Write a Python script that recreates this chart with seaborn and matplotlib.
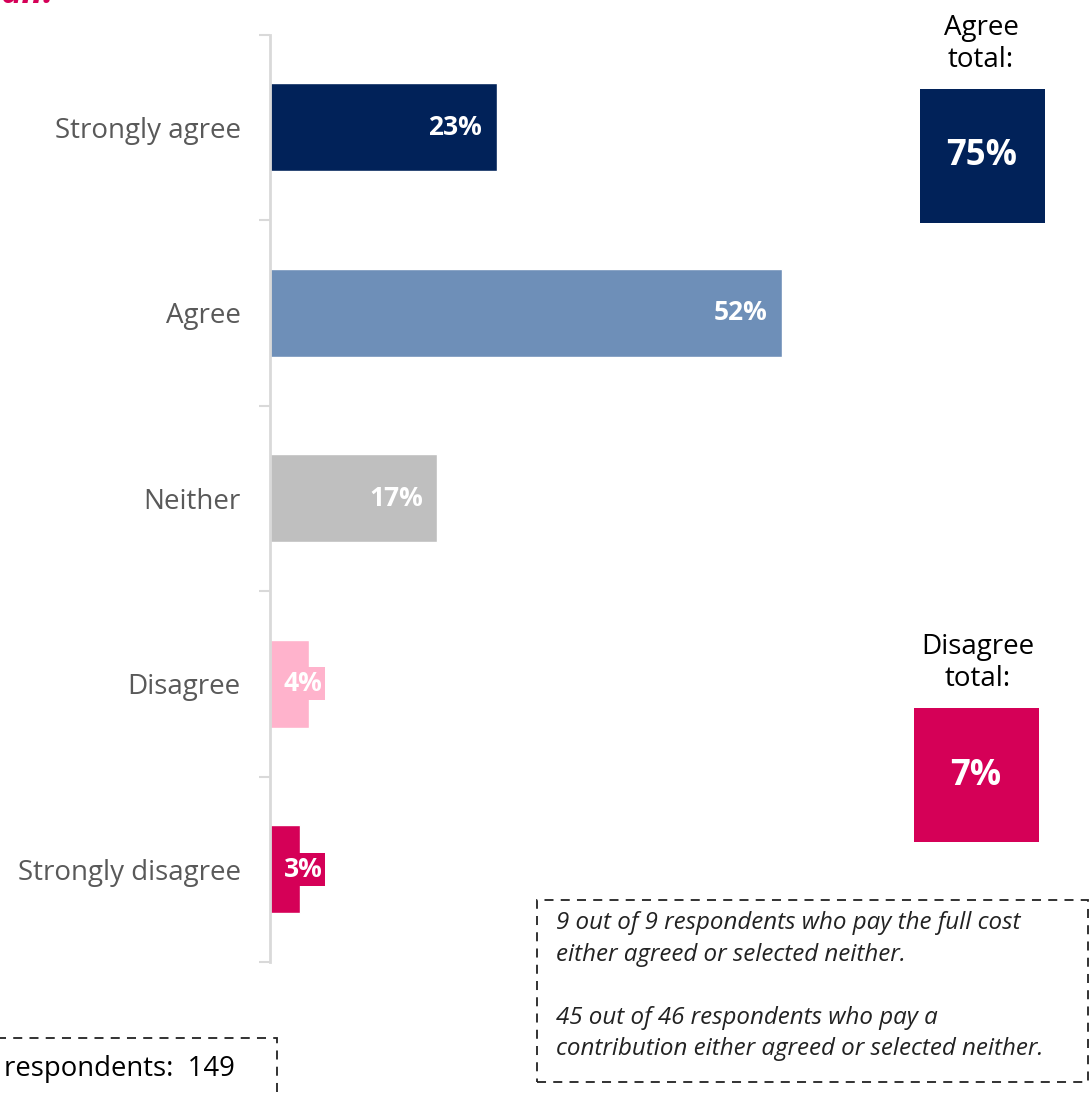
import matplotlib
matplotlib.use("Agg")
import matplotlib.pyplot as plt
import matplotlib.patches as mpatches
import seaborn as sns
import pandas as pd

categories = ["Strongly agree", "Agree", "Neither", "Disagree", "Strongly disagree"]
values = [23, 52, 17, 4, 3]
bar_colors = ["#012259", "#6e8fb8", "#bfbfbf", "#ffb3cc", "#d50057"]
value_labels = ["23%", "52%", "17%", "4%", "3%"]

agree_total = "75%"
disagree_total = "7%"
base_text = "respondents:  149"
note_lines = ["9 out of 9 respondents who pay the full cost",
              "either agreed or selected neither.",
              "",
              "45 out of 46 respondents who pay a",
              "contribution either agreed or selected neither."]

W, H = 1091, 1095
sns.set_style("white")
plt.rcParams['font.family'] = ['Open Sans', 'DejaVu Sans']

fig = plt.figure(figsize=(W / 100, H / 100), dpi=100)
ax = fig.add_axes([270 / W, 1 - 962 / H, 810 / W, (962 - 34.5) / H])

df = pd.DataFrame({"cat": categories, "val": values})
sns.barplot(data=df, y="cat", x="val", hue="cat", palette=bar_colors,
            order=categories, hue_order=categories, width=0.475,
            legend=False, ax=ax, saturation=1)

ax.set_xlim(0, 810 / 9.85)
ax.set_ylim(4.5, -0.5)
ax.set_xlabel("")
ax.set_ylabel("")
ax.set_xticks([])
ax.set_yticks(range(len(categories)))
ax.set_yticklabels(categories, color="#595959", fontsize=20)
ax.tick_params(axis="y", which="major", length=0, pad=21)
ax.set_yticks([i - 0.5 for i in range(len(categories) + 1)], minor=True)
ax.tick_params(axis="y", which="minor", left=True, length=8, width=1.5,
               color="#d9d9d9", direction="out")
for s in ["top", "right", "bottom"]:
    ax.spines[s].set_visible(False)
ax.spines["left"].set_color("#d9d9d9")
ax.spines["left"].set_linewidth(2)

for i, (v, lab) in enumerate(zip(values, value_labels)):
    x = max(v - 1.5, 5.3)
    ax.text(x, i, lab, ha="right", va="center", color="white", fontsize=19,
            fontweight="bold",
            bbox=dict(boxstyle="square,pad=0.12", fc=bar_colors[i], ec="none"))

# totals
def fx(px):
    return px / W

def fy(py):
    return 1 - py / H

fig.text(fx(981), fy(44), "Agree\ntotal:", ha="center", va="center", fontsize=20,
         color="black", linespacing=1.2)
fig.add_artist(mpatches.Rectangle((fx(920), fy(223)), 125 / W, 134 / H,
                                  transform=fig.transFigure, fc="#012259", ec="none"))
fig.text(fx(982), fy(156), agree_total, ha="center", va="center", fontsize=25,
         fontweight="bold", color="white")

fig.text(fx(978), fy(663), "Disagree\ntotal:", ha="center", va="center", fontsize=20,
         color="black", linespacing=1.2)
fig.add_artist(mpatches.Rectangle((fx(914), fy(842)), 125 / W, 134 / H,
                                  transform=fig.transFigure, fc="#d50057", ec="none"))
fig.text(fx(976), fy(776), disagree_total, ha="center", va="center", fontsize=25,
         fontweight="bold", color="white")

# cropped title
fig.text(fx(0), fy(12), "all.", ha="left", va="bottom", fontsize=26, color="#d50057",
         fontweight="bold", style="italic")

# dashed note boxes
fig.add_artist(mpatches.Rectangle((fx(537), fy(1082)), 551 / W, 182 / H,
                                  transform=fig.transFigure, fc="white", ec="#222222",
                                  lw=1.3, ls=(0, (5, 4))))
fig.text(fx(556), fy(911), "\n".join(note_lines), ha="left", va="top", fontsize=17.4,
         style="italic", color="#222222", linespacing=1.42)

fig.add_artist(mpatches.Rectangle((fx(-20), fy(1120)), 297 / W, 82 / H,
                                  transform=fig.transFigure, fc="white", ec="#222222",
                                  lw=1.3, ls=(0, (5, 4))))
fig.text(fx(4), fy(1069), base_text, ha="left", va="center", fontsize=19.8,
         color="black")

fig.savefig("out.png", dpi=100)
